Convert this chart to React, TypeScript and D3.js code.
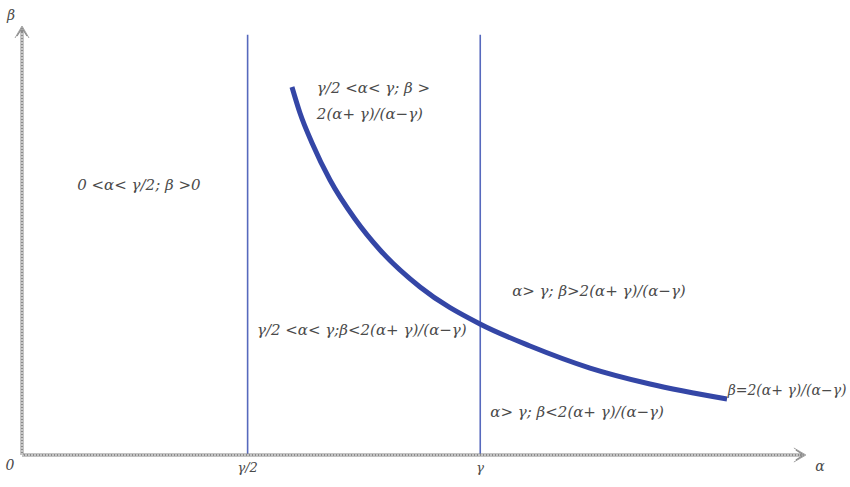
import React from "react";
import * as d3 from "d3";

// Boundary curve β = 2(α+γ)/(α−γ) (schematic units)
const curveAlpha = [3.47, 3.573, 3.728, 3.959, 4.28, 4.602, 5.116, 5.887, 6.53, 7.301, 8.072, 9.062];
const curveBeta = [8.618, 8.009, 7.307, 6.44, 5.527, 4.801, 3.934, 3.068, 2.553, 2.037, 1.663, 1.311];

// Vertical boundaries
const boundaryValues = [2.9, 5.89];
const boundaryLabels = ["γ/2", "γ"];

// Region labels
const regionTexts = [
  ["0 <α< γ/2; β >0"],
  ["γ/2 <α< γ; β >", "2(α+ γ)/(α−γ)"],
  ["γ/2 <α< γ;β<2(α+ γ)/(α−γ)"],
  ["α> γ; β>2(α+ γ)/(α−γ)"],
  ["α> γ; β<2(α+ γ)/(α−γ)"],
  ["β=2(α+ γ)/(α−γ)"],
];

const W = 850;
const H = 487;
const x = d3.scaleLinear().domain([0, 10]).range([22, 800]);
const y = d3.scaleLinear().domain([0, 10]).range([455, 28]);

// label anchors (data coordinates) and font sizes
const regionAnchors: [number, number][] = [
  [0.71, 6.2],
  [3.79, 8.48],
  [3.02, 2.8],
  [6.3, 3.72],
  [6.02, 0.88],
  [9.07, 1.4],
];
const regionSizes = [15, 15, 15, 15, 15, 14];

const FONT = "'DejaVu Serif', 'Liberation Serif', serif";
const TEXT = "#4a4a4a";
const AX = "#8a8a8a";

export default function App() {
  const pts = curveAlpha.map((a, i) => [a, curveBeta[i]] as [number, number]);
  const line = d3
    .line<[number, number]>()
    .x((d) => x(d[0]))
    .y((d) => y(d[1]))
    .curve(d3.curveMonotoneX);

  const x0 = x(0);
  const y0 = y(0);
  const xEnd = x(10.05);
  const yTop = y(10);

  return (
    <svg
      width={W}
      height={H}
      style={{ position: "absolute", left: 0, top: 0, background: "#fff" }}
    >
      {/* vertical boundaries */}
      {boundaryValues.map((v, i) => (
        <g key={i}>
          <line
            x1={x(v)}
            x2={x(v)}
            y1={y(9.84)}
            y2={y0}
            stroke="#5669bd"
            strokeWidth={1.6}
          />
          <text
            x={x(v)}
            y={472}
            textAnchor="middle"
            fontFamily={FONT}
            fontStyle="italic"
            fontSize={13}
            fill={TEXT}
          >
            {boundaryLabels[i]}
          </text>
        </g>
      ))}

      {/* axes: double outlined lines with hollow arrows */}
      <g fill="none" stroke={AX}>
        <line x1={x0} y1={y0} x2={xEnd - 2} y2={y0} strokeWidth={3} />
        <line x1={x0} y1={y0} x2={xEnd - 4} y2={y0} strokeWidth={1} stroke="#fff" strokeDasharray="2,1" />
        <line x1={x0} y1={y0} x2={x0} y2={yTop + 2} strokeWidth={3} />
        <line x1={x0} y1={y0} x2={x0} y2={yTop + 4} strokeWidth={1} stroke="#fff" strokeDasharray="2,1" />
        <path
          d={`M${xEnd - 8},${y0 - 5} L${xEnd},${y0} L${xEnd - 8},${y0 + 5}`}
          strokeWidth={1.2}
        />
        <path
          d={`M${xEnd - 10},${y0 - 7} L${xEnd + 2},${y0} L${xEnd - 10},${y0 + 7}`}
          strokeWidth={0.8}
        />
        <path
          d={`M${x0 - 5},${yTop + 8} L${x0},${yTop} L${x0 + 5},${yTop + 8}`}
          strokeWidth={1.2}
        />
        <path
          d={`M${x0 - 7},${yTop + 10} L${x0},${yTop - 2} L${x0 + 7},${yTop + 10}`}
          strokeWidth={0.8}
        />
      </g>

      {/* curve */}
      <path
        d={line(pts) || ""}
        fill="none"
        stroke="#3446a6"
        strokeWidth={5}
        strokeLinecap="butt"
      />

      {/* axis labels */}
      <g fontFamily={FONT} fontStyle="italic" fontSize={14} fill={TEXT}>
        <text x={10} y={470} textAnchor="middle">0</text>
        <text x={820} y={471} textAnchor="middle">α</text>
        <text x={11} y={20} textAnchor="middle">β</text>
      </g>

      {/* region labels */}
      <g fontFamily={FONT} fontStyle="italic" fill={TEXT}>
        {regionTexts.map((lines, i) => (
          <text
            key={i}
            x={x(regionAnchors[i][0])}
            y={y(regionAnchors[i][1])}
            fontSize={regionSizes[i]}
          >
            {lines.map((l, j) => (
              <tspan key={j} x={x(regionAnchors[i][0])} dy={j === 0 ? 0 : 26}>
                {l}
              </tspan>
            ))}
          </text>
        ))}
      </g>
    </svg>
  );
}
